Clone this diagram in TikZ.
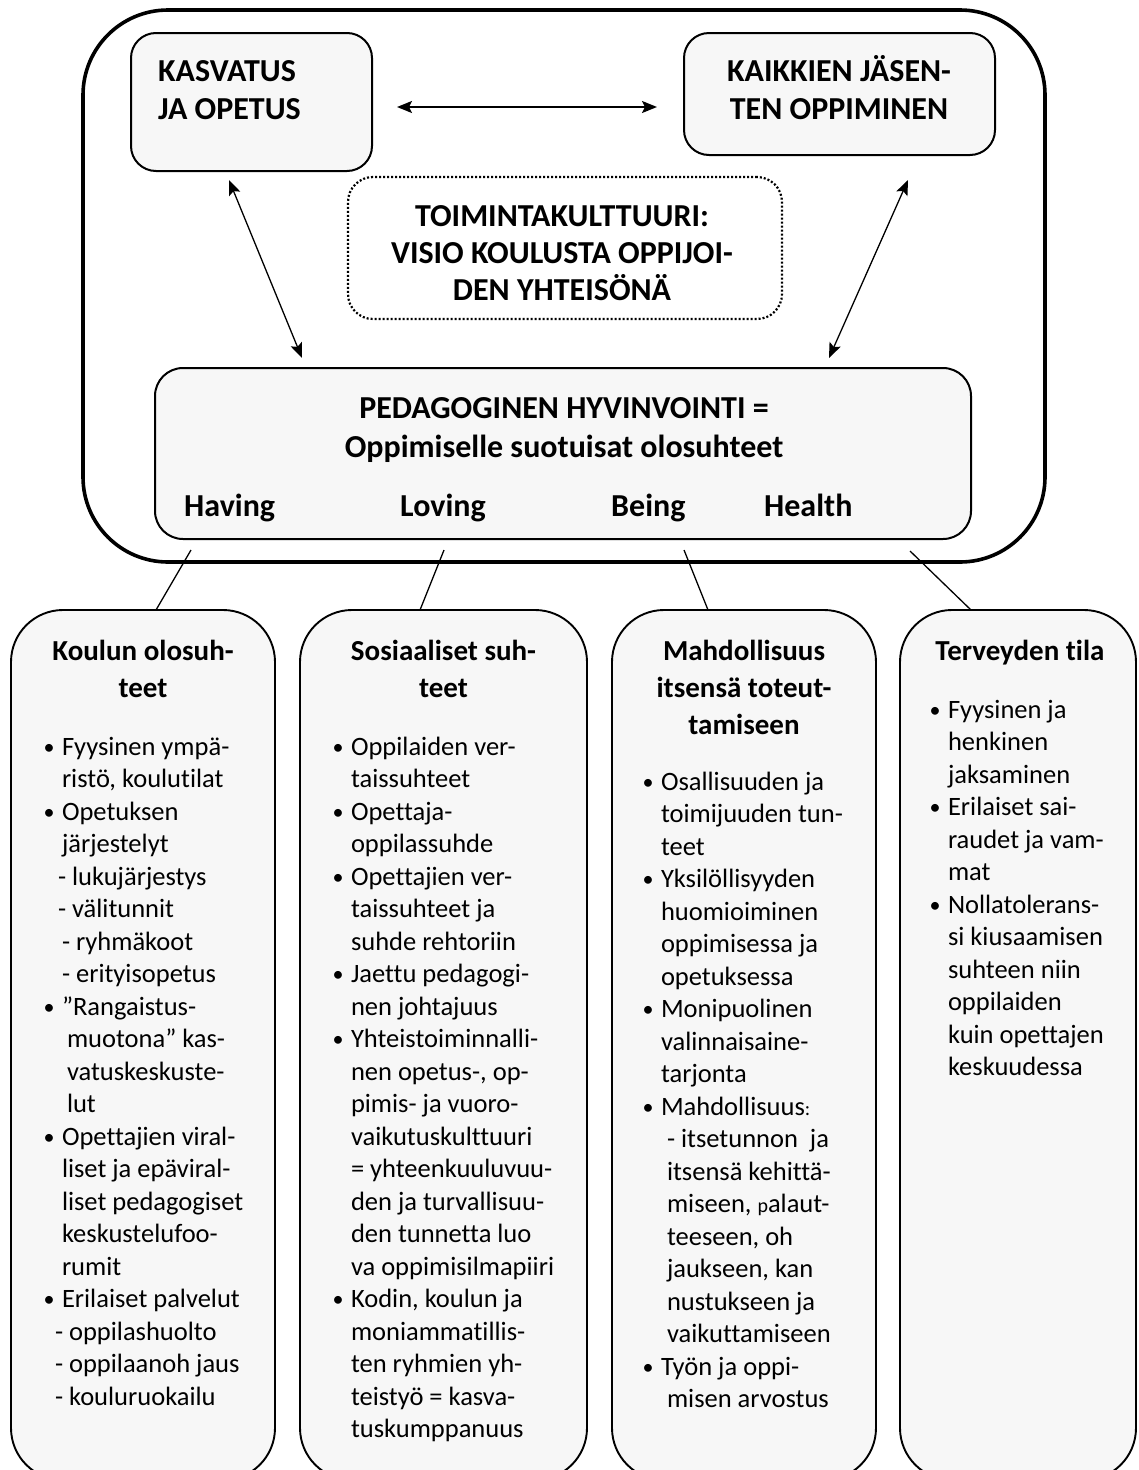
\documentclass[tikz,border=0pt]{standalone}
\usepackage{fontspec}
\setmainfont{Carlito}[Ligatures=NoCommon]
\usetikzlibrary{arrows.meta}
\definecolor{boxfill}{HTML}{F7F7F7}
\newcommand\bul{\llap{\makebox[0pt][c]{\fontsize{22}{22}\selectfont\raisebox{1pt}{•}}\hspace{13pt}}}
\newcommand\smx{\fontsize{20}{20}\selectfont}
\tikzset{
  body/.style={font=\fontsize{26.5}{32.5}\selectfont, anchor=base west, inner sep=0pt, outer sep=0pt},
  ttl/.style={font=\bfseries\fontsize{29}{36}\selectfont, anchor=base, inner sep=0pt},
  big/.style={font=\bfseries\fontsize{32}{38}\selectfont, inner sep=0pt},
  topbox/.style={draw, line width=2pt, fill=boxfill, inner sep=0pt, outer sep=0pt, rounded corners=25pt},
  lowbox/.style={draw, line width=1.9pt, fill=boxfill, inner sep=0pt, outer sep=0pt, rounded corners=52pt, minimum height=870pt},
  arr/.style={{Stealth[length=15pt,width=12pt,inset=3pt]}-{Stealth[length=15pt,width=12pt,inset=3pt]}},
  link/.style={line width=1.3pt}
}
\begin{document}
\begin{tikzpicture}[x=1pt,y=-1pt]
\useasboundingbox (0,0) rectangle (1139,1470);
\clip (0,0) rectangle (1139,1470);

% outer frame
\node[draw, line width=3.6pt, rounded corners=85pt, minimum width=962pt, minimum height=552pt, inner sep=0pt, outer sep=0pt] (outer) at (564,286) {};

% top boxes
\node[topbox, minimum width=241pt, minimum height=138pt] (kas) at (251.5,102) {};
\node[topbox, minimum width=311pt, minimum height=122pt] (kai) at (839.5,94) {};
\node[draw, line width=2.2pt, dash pattern=on 2pt off 2pt, rounded corners=25pt, minimum width=434pt, minimum height=142pt, inner sep=0pt, outer sep=0pt] (toi) at (565,248) {};
\node[topbox, rounded corners=28pt, minimum width=816pt, minimum height=171pt] (ped) at (563,453.5) {};

% top texts
\node[big, anchor=base west] (kas1) at (158,81) {KASVATUS};
\node[big, anchor=base west] (kas2) at (158,119) {JA OPETUS};
\node[big, anchor=base] (kai1) at (839,81) {KAIKKIEN JÄSEN-};
\node[big, anchor=base] (kai2) at (839,119) {TEN OPPIMINEN};
\node[big, anchor=base] (toi1) at (562,226) {TOIMINTAKULTTUURI:};
\node[big, anchor=base] (toi2) at (562,263) {VISIO KOULUSTA OPPIJOI-};
\node[big, anchor=base] (toi3) at (562,300) {DEN YHTEISÖNÄ};
\node[big, anchor=base] (ped1) at (564,418) {PEDAGOGINEN HYVINVOINTI =};
\node[big, anchor=base] (ped2) at (564,457) {Oppimiselle suotuisat olosuhteet};
\node[big, anchor=base west] (hav) at (184,516) {Having};
\node[big, anchor=base west] (lov) at (400,516) {Loving};
\node[big, anchor=base west] (bei) at (611,516) {Being};
\node[big, anchor=base west] (hea) at (764,516) {Health};

% arrows
\coordinate (h1) at (397,107);
\coordinate (h2) at (657,107);
\draw[arr, line width=2pt] (h1) -- (h2);
\coordinate (l1) at (229,180);
\coordinate (l2) at (302,358);
\draw[arr, line width=1.3pt] (l1) -- (l2);
\coordinate (r1) at (908,180);
\coordinate (r2) at (829,358);
\draw[arr, line width=1.3pt] (r1) -- (r2);

% lower boxes
\node[lowbox, minimum width=264pt] (b1) at (143,1045) {};
\node[lowbox, minimum width=287pt] (b2) at (443.5,1045) {};
\node[lowbox, minimum width=264pt] (b3) at (744,1045) {};
\node[lowbox, minimum width=236pt] (b4) at (1018,1045) {};

% links
\coordinate (s1) at (191,550); \coordinate (e1) at (156,610);
\coordinate (s2) at (444,550); \coordinate (e2) at (420,610);
\coordinate (s3) at (684,550); \coordinate (e3) at (708,610);
\coordinate (s4) at (910,551); \coordinate (e4) at (971,610);
\draw[link] (s1) -- (e1);
\draw[link] (s2) -- (e2);
\draw[link] (s3) -- (e3);
\draw[link] (s4) -- (e4);

% titles
\node[ttl] (t1a) at (143,660) {Koulun olosuh-};
\node[ttl] (t1b) at (143,697) {teet};
\node[ttl] (t2a) at (443.5,660) {Sosiaaliset suh-};
\node[ttl] (t2b) at (443.5,697) {teet};
\node[ttl] (t3a) at (744,660) {Mahdollisuus};
\node[ttl] (t3b) at (744,697) {itsensä toteut-};
\node[ttl] (t3c) at (744,734) {tamiseen};
\node[ttl] (t4a) at (1020,660) {Terveyden tila};

% body lines box 1
\foreach \dx/\t [count=\i from 0] in {
  0/{\bul Fyysinen ympä-}, 0/{ristö, koulutilat}, 0/{\bul Opetuksen}, 0/{järjestelyt},
  -4/{- lukujärjestys}, -4/{- välitunnit}, 0/{- ryhmäkoot}, 0/{- erityisopetus},
  0/{\bul ”Rangaistus-}, 5/{muotona” kas-}, 5/{vatuskeskuste-}, 5/{lut},
  0/{\bul Opettajien viral-}, 0/{liset ja epäviral-}, 0/{liset pedagogiset},
  0/{keskustelufoo-}, 0/{rumit}, 0/{\bul Erilaiset palvelut},
  -7/{- oppilashuolto}, -7/{- oppilaanoh jaus}, -7/{- kouluruokailu}}
  \node[body] (p1l\i) at (62+\dx, 755+32.5*\i) {\t};

% body lines box 2
\foreach \t [count=\i from 0] in {
  {\bul Oppilaiden ver-}, {taissuhteet}, {\bul Opettaja-}, {oppilassuhde},
  {\bul Opettajien ver-}, {taissuhteet ja}, {suhde rehtoriin},
  {\bul Jaettu pedagogi-}, {nen johtajuus}, {\bul Yhteistoiminnalli-},
  {nen opetus-, op-}, {pimis- ja vuoro-}, {vaikutuskulttuuri},
  {= yhteenkuuluvuu-}, {den ja turvallisuu-}, {den tunnetta luo},
  {va oppimisilmapiiri}, {\bul Kodin, koulun ja}, {moniammatillis-},
  {ten ryhmien yh-}, {teistyö = kasva-}, {tuskumppanuus}}
  \node[body] (p2l\i) at (351, 755+32.5*\i) {\t};

% body lines box 3
\foreach \dx/\t [count=\i from 0] in {
  0/{\bul Osallisuuden ja}, 0/{toimijuuden tun-}, 0/{teet},
  0/{\bul Yksilöllisyyden}, 0/{huomioiminen}, 0/{oppimisessa ja}, 0/{opetuksessa},
  0/{\bul Monipuolinen}, 0/{valinnaisaine-}, 0/{tarjonta},
  0/{\bul Mahdollisuus{\smx :}}, 6/{- itsetunnon\ \ ja}, 6/{itsensä kehittä-},
  6/{miseen, {\smx p}alaut-}, 6/{teeseen, oh}, 6/{jaukseen, kan},
  6/{nustukseen ja}, 6/{vaikuttamiseen}, 0/{\bul Työn ja oppi-}, 6/{misen arvostus}}
  \node[body] (p3l\i) at (661+\dx, 790+32.5*\i) {\t};

% body lines box 4
\foreach \t [count=\i from 0] in {
  {\bul Fyysinen ja}, {henkinen}, {jaksaminen}, {\bul Erilaiset sai-},
  {raudet ja vam-}, {mat}, {\bul Nollatolerans-}, {si kiusaamisen},
  {suhteen niin}, {oppilaiden}, {kuin opettajen}, {keskuudessa}}
  \node[body] (p4l\i) at (948, 718+32.5*\i) {\t};
\end{tikzpicture}
\end{document}
